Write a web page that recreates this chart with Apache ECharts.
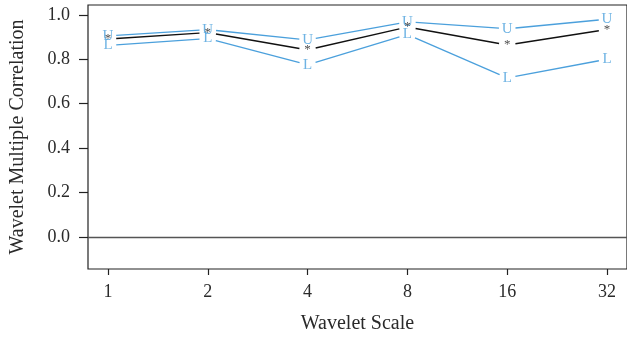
<!DOCTYPE html>
<html>
<head>
<meta charset="utf-8">
<script src="https://cdn.jsdelivr.net/npm/echarts@6/dist/echarts.min.js"></script>
<style>
  html, body { margin: 0; padding: 0; background: #fff; }
  #chart { width: 627px; height: 339px; }
</style>
</head>
<body>
<div id="chart"></div>
<script>
// Wavelet scales (log2 positions 0..5 -> 1..32)
const scales = [1, 2, 4, 8, 16, 32];
// Estimated wavelet multiple correlation and its confidence bounds
const estimate = [0.891, 0.920, 0.842, 0.945, 0.864, 0.934];
const upper    = [0.905, 0.933, 0.887, 0.968, 0.937, 0.980];
const lower    = [0.862, 0.893, 0.775, 0.911, 0.716, 0.800];
const yTicks = [0.0, 0.2, 0.4, 0.6, 0.8, 1.0];

const BLUE = '#4ba0dc';
const FONT = 'Liberation Serif';
const GAP = 8.3; // px left blank around each plotted symbol

const xPos = scales.map(s => Math.log2(s));

function points(vals) {
  return vals.map((v, i) => [xPos[i], v]);
}
function segments(vals) {
  const out = [];
  for (let i = 0; i < vals.length - 1; i++) {
    out.push([xPos[i], vals[i], xPos[i + 1], vals[i + 1]]);
  }
  return out;
}

// line pieces that stop short of each symbol
function gappedLine(vals, color, width) {
  return {
    type: 'custom',
    data: segments(vals),
    encode: { x: [0, 2], y: [1, 3] },
    silent: true,
    z: 2,
    renderItem: function (params, api) {
      const a = api.coord([api.value(0), api.value(1)]);
      const b = api.coord([api.value(2), api.value(3)]);
      const dx = b[0] - a[0], dy = b[1] - a[1];
      const len = Math.sqrt(dx * dx + dy * dy);
      const ux = dx / len, uy = dy / len;
      return {
        type: 'line',
        shape: {
          x1: a[0] + ux * GAP, y1: a[1] + uy * GAP,
          x2: b[0] - ux * GAP, y2: b[1] - uy * GAP
        },
        style: { stroke: color, lineWidth: width }
      };
    }
  };
}

function letterSeries(vals, text, color, size, offset) {
  return {
    type: 'scatter',
    data: points(vals),
    symbol: 'circle',
    symbolSize: 1,
    itemStyle: { color: 'rgba(0,0,0,0)' },
    silent: true,
    z: 3,
    label: {
      show: true,
      position: 'inside',
      formatter: text,
      color: color,
      fontFamily: FONT,
      fontSize: size,
      offset: offset
    },
    labelLayout: { hideOverlap: false }
  };
}

const chart = echarts.init(document.getElementById('chart'), null, { renderer: 'canvas' });

chart.setOption({
  animation: false,
  backgroundColor: '#fff',
  grid: {
    left: 86, right: -4, top: 5, bottom: 69,
    show: true, borderColor: '#222', borderWidth: 1.2, backgroundColor: 'transparent'
  },
  xAxis: {
    type: 'value',
    min: -0.2, max: 5.2,
    name: 'Wavelet Scale',
    nameLocation: 'middle',
    nameGap: 45,
    nameTextStyle: { fontFamily: FONT, fontSize: 20, color: '#2a2a2a' },
    axisLine: { show: false, onZero: false },
    splitLine: { show: false },
    axisTick: { show: true, length: 6, lineStyle: { color: '#222', width: 1.2 }, customValues: xPos },
    axisLabel: {
      fontFamily: FONT, fontSize: 18, color: '#2a2a2a', margin: 14,
      customValues: xPos,
      formatter: v => String(Math.round(Math.pow(2, v)))
    }
  },
  yAxis: {
    type: 'value',
    min: -0.144, max: 1.044,
    name: 'Wavelet Multiple Correlation',
    nameLocation: 'middle',
    nameGap: 60,
    nameTextStyle: { fontFamily: FONT, fontSize: 20, color: '#2a2a2a' },
    axisLine: { show: false, onZero: false },
    splitLine: { show: false },
    axisTick: { show: true, length: 9, lineStyle: { color: '#222', width: 1.2 }, customValues: yTicks },
    axisLabel: {
      fontFamily: FONT, fontSize: 18, color: '#2a2a2a', margin: 18,
      customValues: yTicks,
      formatter: v => v.toFixed(1)
    }
  },
  series: [
    // horizontal reference line at zero
    {
      type: 'line',
      data: [],
      markLine: {
        silent: true,
        symbol: 'none',
        label: { show: false },
        lineStyle: { color: '#555', width: 1.4, type: 'solid' },
        data: [{ yAxis: 0 }]
      }
    },
    gappedLine(upper, BLUE, 1.3),
    gappedLine(lower, BLUE, 1.3),
    gappedLine(estimate, '#111', 1.4),
    letterSeries(upper, 'U', BLUE, 15, [0, -3]),
    letterSeries(lower, 'L', BLUE, 15, [0, -1]),
    letterSeries(estimate, '*', '#222', 13, [0, 2.5])
  ]
});
</script>
</body>
</html>
